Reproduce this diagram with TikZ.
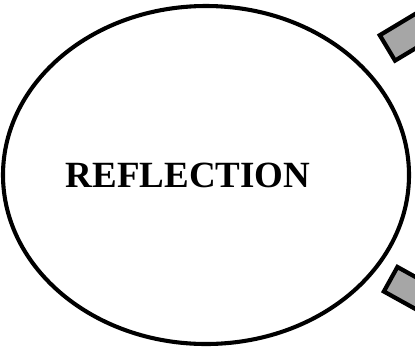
\documentclass[tikz,border=0pt]{standalone}
\usepackage{fontspec}
\setmainfont{Liberation Serif}
\usepackage{tikz}
\usetikzlibrary{shapes.geometric,positioning}
\definecolor{bargray}{RGB}{166,166,166}

\begin{document}
\begin{tikzpicture}[
    bubble/.style={ellipse, draw, line width=2.9pt, minimum width=10.15cm, minimum height=8.45cm, inner sep=0pt},
    bar/.style={rectangle, draw, fill=bargray, line width=3pt, minimum width=3cm, inner sep=0pt, anchor=west},
    title/.style={font=\bfseries\fontsize{26.3}{30}\selectfont}
]
    \useasboundingbox (0, 0) rectangle (10.375, 8.675);
    \clip (0, 0) rectangle (10.375, 8.675);

    % ---- main bubble ----
    \node[bubble] (reflect) at (5.15, 4.3) {};
    \node[title] (reflect_txt) at (4.7, 4.3) {REFLECTION};

    % ---- bars at the right edge ----
    \node[bar, minimum height=0.74cm, rotate=31] (bar_top) at (9.64, 7.45) {};
    \node[bar, minimum height=0.7cm, rotate=-29] (bar_bot) at (9.72, 1.72) {};
\end{tikzpicture}
\end{document}
